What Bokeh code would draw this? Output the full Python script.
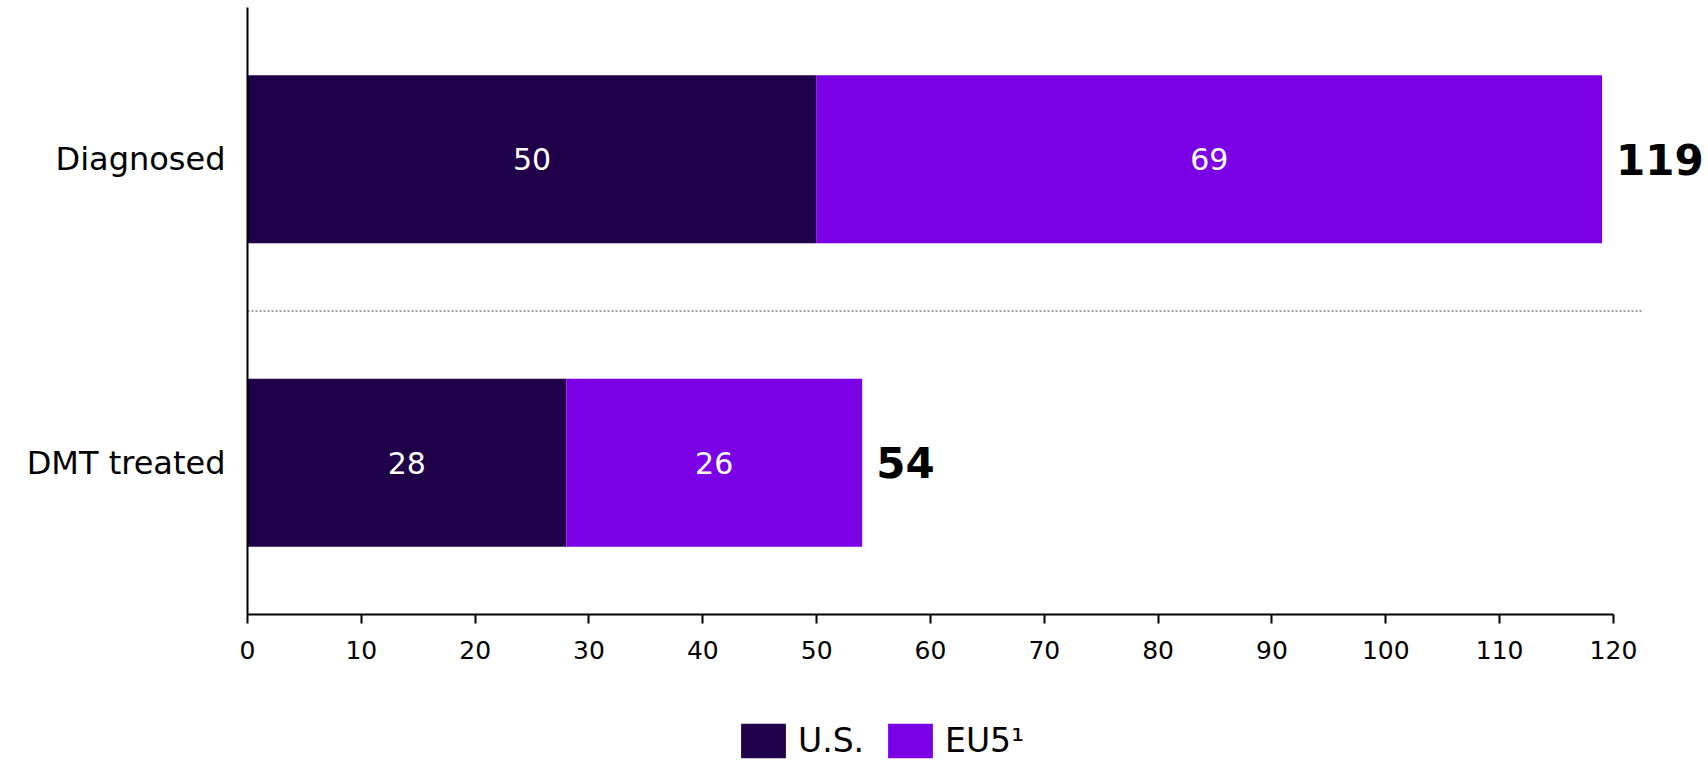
from bokeh.plotting import figure
from bokeh.layouts import column
from bokeh.models import (ColumnDataSource, FactorRange, Range1d, LabelSet,
                          Legend, LegendItem, FixedTicker)
from bokeh.core.properties import value
from bokeh.embed import file_html
from bokeh.resources import INLINE

# ---- data ----
categories = ["Diagnosed", "DMT treated"]
us_values = [50, 28]
eu5_values = [69, 26]
series_names = ["U.S.", "EU5\u00b9"]
x_ticks = [0, 10, 20, 30, 40, 50, 60, 70, 80, 90, 100, 110, 120]

# ---- styles / layout ----
US_COLOR = "#200048"
EU5_COLOR = "#7B00E6"
FONT = "DejaVu Sans"
X_VIEW_END = 128.35      # visible x extent (room for total labels)
DIVIDER_END = 122.5      # where the dotted divider stops
BAR_HEIGHT = 0.553
PAGE_W = 1708
MAIN_H = 700
LEGEND_H = 61

totals = [u + e for u, e in zip(us_values, eu5_values)]
src = ColumnDataSource(dict(
    cat=categories,
    us=us_values,
    eu5=eu5_values,
    total=totals,
    us_mid=[u / 2 for u in us_values],
    eu5_mid=[u + e / 2 for u, e in zip(us_values, eu5_values)],
    us_lbl=[str(v) for v in us_values],
    eu5_lbl=[str(v) for v in eu5_values],
    total_lbl=[str(v) for v in totals],
))

p = figure(width=PAGE_W, height=MAIN_H,
           y_range=FactorRange(*reversed(categories)),
           x_range=Range1d(0, X_VIEW_END),
           output_backend="svg", toolbar_location=None,
           min_border_left=247, min_border_right=0,
           min_border_top=7, min_border_bottom=86)

p.hbar(y="cat", left=0, right="us", height=BAR_HEIGHT, source=src,
       fill_color=US_COLOR, line_color=None)
p.hbar(y="cat", left="us", right="total", height=BAR_HEIGHT, source=src,
       fill_color=EU5_COLOR, line_color=None)

# dotted divider between the two categories
p.segment(x0=[0], x1=[DIVIDER_END], y0=[1], y1=[1], line_color="#a0a0a0",
          line_dash="2 2", line_width=2)

p.add_layout(LabelSet(x="us_mid", y="cat", text="us_lbl", source=src,
                      text_color="white", text_font=value(FONT), text_font_size="30px",
                      text_align="center", text_baseline="middle"))
p.add_layout(LabelSet(x="eu5_mid", y="cat", text="eu5_lbl", source=src,
                      text_color="white", text_font=value(FONT), text_font_size="30px",
                      text_align="center", text_baseline="middle"))
p.add_layout(LabelSet(x="total", y="cat", text="total_lbl", source=src,
                      x_offset=14, text_color="black", text_font=value(FONT),
                      text_font_size="42px", text_font_style="bold",
                      text_align="left", text_baseline="middle"))

# axes
p.xaxis.ticker = FixedTicker(ticks=x_ticks)
p.xaxis.bounds = (0, 120)
p.xaxis.axis_line_width = 2
p.xaxis.axis_line_color = "black"
p.xaxis.major_tick_line_width = 2
p.xaxis.major_tick_line_color = "black"
p.xaxis.major_tick_out = 9
p.xaxis.major_tick_in = 0
p.xaxis.minor_tick_line_color = None
p.xaxis.major_label_text_font = FONT
p.xaxis.major_label_text_font_size = "25px"
p.xaxis.major_label_text_color = "black"
p.xaxis.major_label_standoff = 17

p.yaxis.axis_line_width = 2
p.yaxis.axis_line_color = "black"
p.yaxis.major_tick_line_color = None
p.yaxis.minor_tick_line_color = None
p.yaxis.major_label_text_font = FONT
p.yaxis.major_label_text_font_size = "32px"
p.yaxis.major_label_text_color = "black"
p.yaxis.major_label_standoff = 16

p.grid.visible = False
p.outline_line_color = None
p.background_fill_color = "white"
p.border_fill_color = "white"

# ---- legend strip below the chart ----
lp = figure(width=PAGE_W, height=LEGEND_H,
            x_range=Range1d(0, PAGE_W), y_range=FactorRange(*reversed(categories)),
            output_backend="svg", toolbar_location=None,
            x_axis_type=None, y_axis_type=None,
            min_border_left=0, min_border_right=0,
            min_border_top=0, min_border_bottom=0)
lp.grid.visible = False
lp.outline_line_color = None
lp.background_fill_color = "white"
lp.border_fill_color = "white"

# renderers that only serve as legend swatches (hidden)
l_us = lp.hbar(y="cat", left=0, right="us", height=BAR_HEIGHT, source=src,
               fill_color=US_COLOR, line_color=None, visible=False)
l_eu = lp.hbar(y="cat", left="us", right="total", height=BAR_HEIGHT, source=src,
               fill_color=EU5_COLOR, line_color=None, visible=False)

legend = Legend(items=[LegendItem(label=series_names[0], renderers=[l_us]),
                       LegendItem(label=series_names[1], renderers=[l_eu])],
                location=(488, -1), orientation="horizontal",
                glyph_width=56, glyph_height=43,
                label_text_font=FONT, label_text_font_size="33px",
                label_text_color="black",
                label_standoff=7, spacing=18, padding=0, margin=0,
                border_line_color=None, background_fill_alpha=0)
lp.add_layout(legend, "center")

layout = column(p, lp, spacing=0)
open("out.html", "w").write(file_html(layout, INLINE))
